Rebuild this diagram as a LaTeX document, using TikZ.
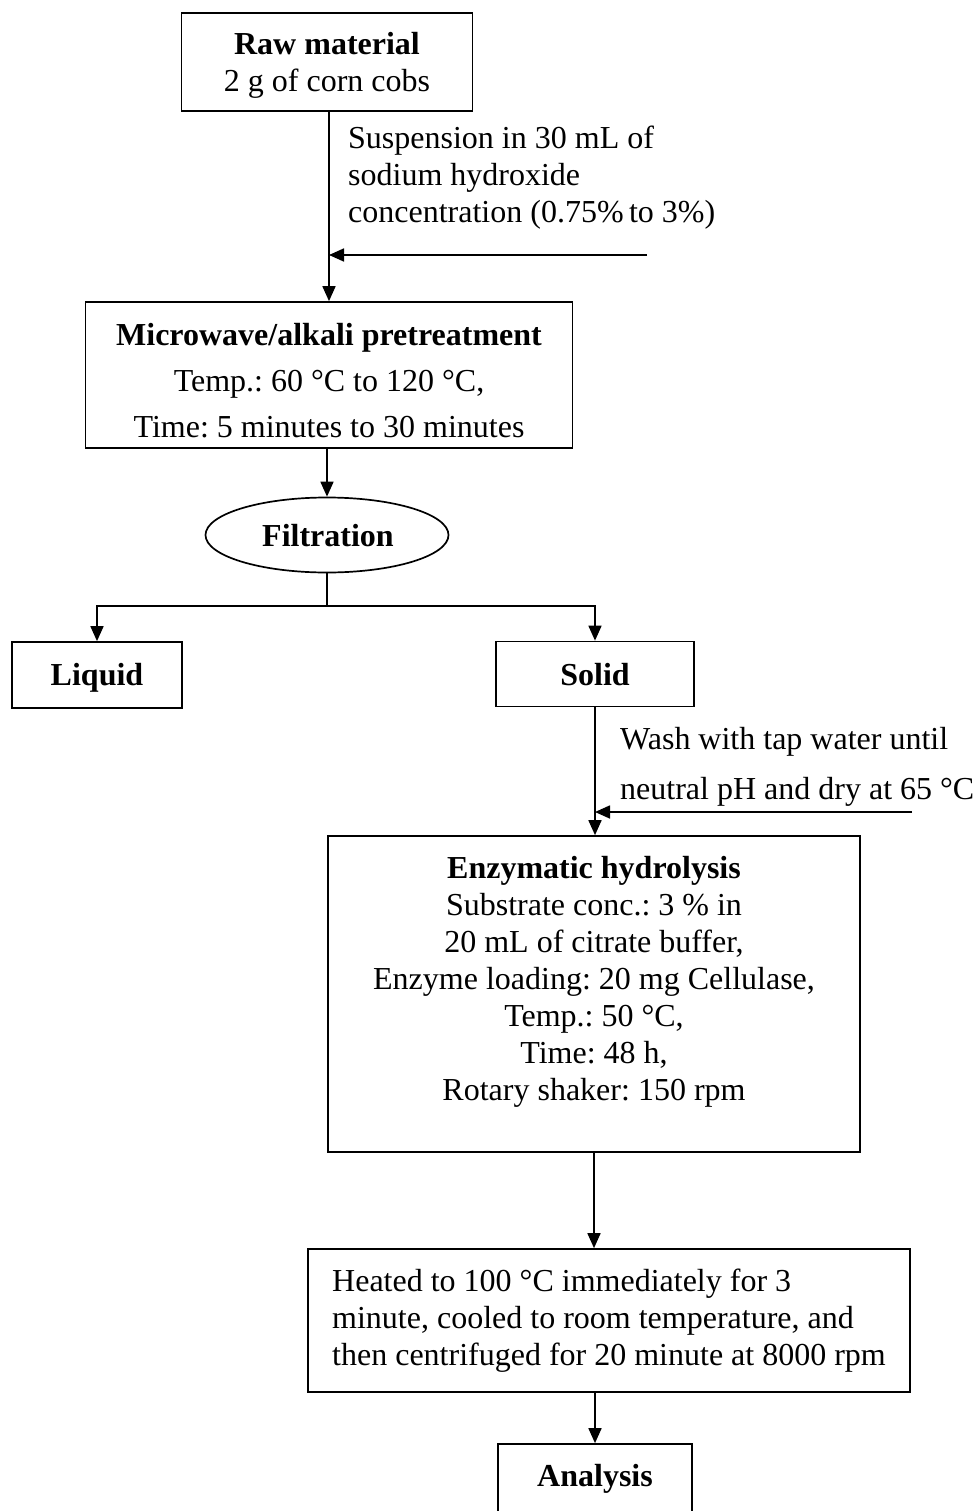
\documentclass[tikz,border=0pt]{standalone}
\usepackage{fontspec}
\setmainfont{Liberation Serif}
\usetikzlibrary{arrows.meta,shapes.geometric}
\frenchspacing
\begin{document}
\begin{tikzpicture}[x=1pt,y=-1pt,
  every node/.style={font=\fontsize{32}{37}\selectfont, inner sep=0pt},
  box/.style={draw, line width=1.7pt, rectangle, align=center},
  oval/.style={draw, line width=1.7pt, ellipse},
  txt/.style={align=center},
  free/.style={align=left},
  line/.style={line width=1.7pt},
  arr/.style={line width=1.7pt, -{Triangle[length=15pt,width=13pt]}}
]
\useasboundingbox (0,0) rectangle (978,1511);
\clip (0,0) rectangle (978,1511);

% boxes
\node[box, minimum width=291pt, minimum height=98pt] (raw) at (327,62) {};
\node[txt] (rawtext) at (327,65) {\textbf{Raw material}\\2 g of corn cobs};
\node[box, minimum width=487pt, minimum height=146pt] (micro) at (329,375) {};
\node[txt, font=\fontsize{32}{46}\selectfont] (microtext) at (329,381)
  {\textbf{Microwave/alkali pretreatment}\\Temp.: 60 °C to 120 °C,\\Time: 5 minutes to 30 minutes};
\node[oval, minimum width=243pt, minimum height=75pt] (filt) at (327,535) {};
\node (filttext) at (328,536) {\textbf{Filtration}};
\node[box, minimum width=170pt, minimum height=66pt] (liquid) at (97,675) {};
\node (liquidtext) at (97,678) {\textbf{Liquid}};
\node[box, minimum width=198pt, minimum height=65pt] (solid) at (595,674) {};
\node (solidtext) at (595,675) {\textbf{Solid}};
\node[box, minimum width=532pt, minimum height=316pt] (enz) at (594,994) {};
\node[txt, anchor=north] (enztext) at (594,856)
  {\textbf{Enzymatic hydrolysis}\\Substrate conc.: 3 \% in\\20 mL of citrate buffer,\\Enzyme loading: 20 mg Cellulase,\\Temp.: 50 °C,\\Time: 48 h,\\Rotary shaker: 150 rpm};
\node[box, align=left, minimum width=602pt, minimum height=143pt] (heat) at (609,1320.5)
  {Heated to 100 °C immediately for 3\\minute, cooled to room temperature, and\\then centrifuged for 20 minute at 8000 rpm};
\node[box, minimum width=194pt, minimum height=96pt] (anal) at (595,1492) {};
\node (analtext) at (595,1479) {\textbf{Analysis}};

% side texts
\node[free, anchor=north west] (susp) at (348,126)
  {Suspension in 30 mL of\\sodium hydroxide\\concentration (0.75\%\,to 3\%)};
\node[free, anchor=north west, font=\fontsize{32}{50}\selectfont] (wash) at (620,727)
  {Wash with tap water until\\neutral pH and dry at 65 °C};

% connectors
\coordinate (s1) at (647,255);
\coordinate (s2) at (912,812);
\coordinate (jn) at (327,606);

\draw[arr] (raw.south -| micro.north) -- (micro.north);
\draw[arr] (s1) -- (s1 -| micro.north);
\draw[arr] (micro.south -| filt.north) -- (filt.north);
\draw[line] (filt.south) -- (jn);
\draw[arr] (jn) -| (liquid.north);
\draw[arr] (jn) -| (solid.north);
\draw[arr] (solid.south) -- (solid.south |- enz.north);
\draw[arr] (s2) -- (s2 -| solid.south);
\draw[arr] (enz.south) -- (enz.south |- heat.north);
\draw[arr] (heat.south -| anal.north) -- (anal.north);
\end{tikzpicture}
\end{document}
